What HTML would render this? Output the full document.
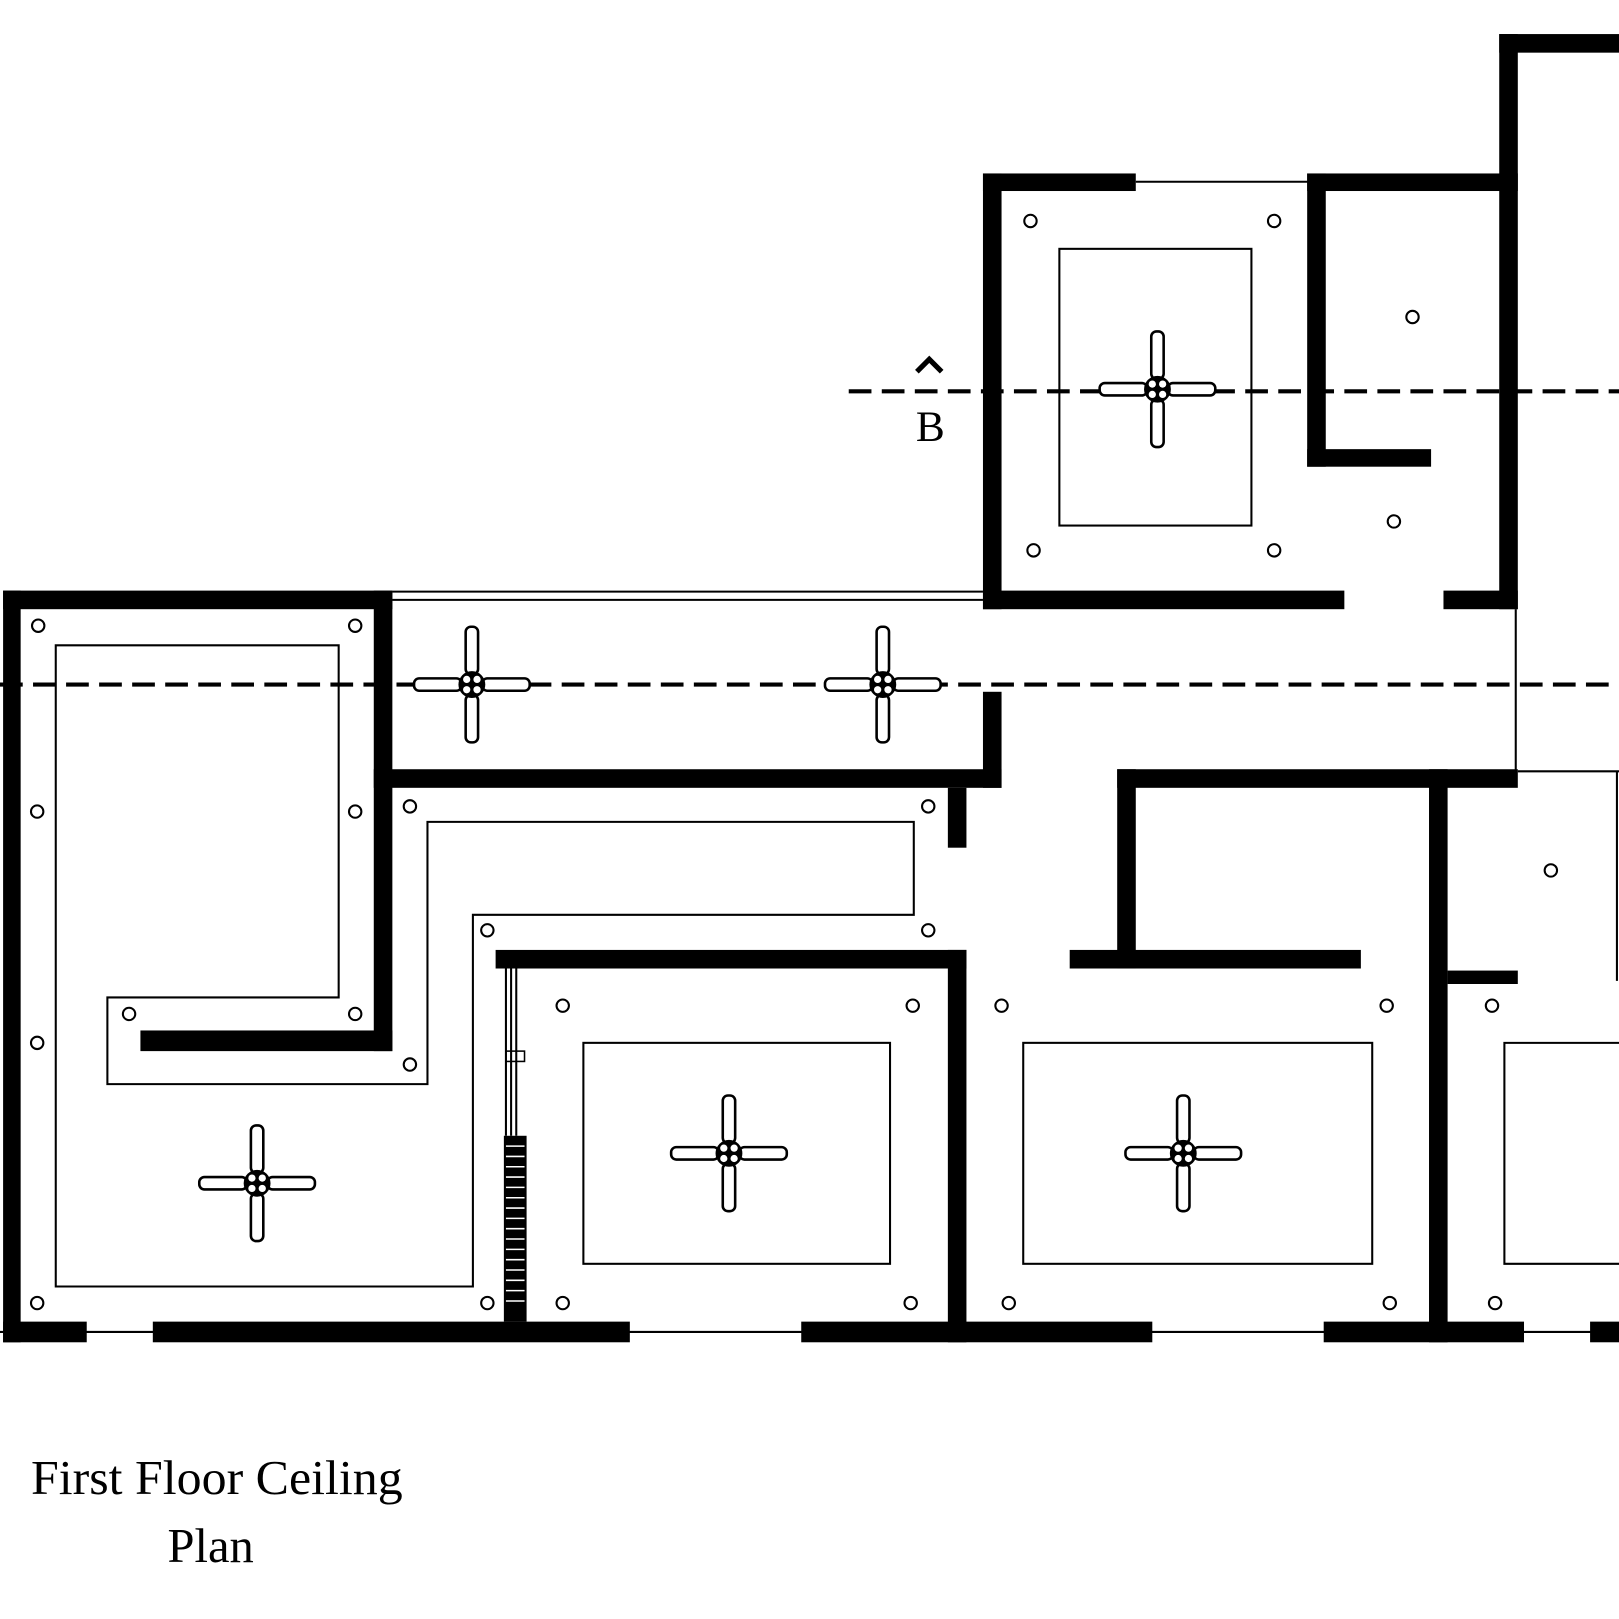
<!DOCTYPE html>
<html><head><meta charset="utf-8"><style>
html,body{margin:0;padding:0;background:#fff;}
svg{display:block;}
</style></head><body>
<svg width="1619" height="1619" viewBox="0 0 1568 1568" preserveAspectRatio="none" xmlns="http://www.w3.org/2000/svg">
<defs>
<g id="fan">
  <rect x="-6" y="-56" width="12" height="46" rx="5" fill="#fff" stroke="#000" stroke-width="2.5"/>
  <rect x="-6" y="10" width="12" height="46" rx="5" fill="#fff" stroke="#000" stroke-width="2.5"/>
  <rect x="-56" y="-6" width="46" height="12" rx="5" fill="#fff" stroke="#000" stroke-width="2.5"/>
  <rect x="10" y="-6" width="46" height="12" rx="5" fill="#fff" stroke="#000" stroke-width="2.5"/>
  <circle r="13" fill="#000"/>
  <circle cx="-5" cy="-5" r="3.5" fill="#fff"/><circle cx="5" cy="-5" r="3.5" fill="#fff"/>
  <circle cx="-5" cy="5" r="3.5" fill="#fff"/><circle cx="5" cy="5" r="3.5" fill="#fff"/>
</g>
<circle id="lt" r="6" fill="#fff" stroke="#000" stroke-width="2"/>
</defs>
<rect width="1568" height="1568" fill="#fff"/>
<g fill="none" stroke="#000" stroke-width="2">
  <line x1="1100" y1="176" x2="1268" y2="176"/>
  <line x1="380" y1="573" x2="952" y2="573"/>
  <line x1="380" y1="581" x2="952" y2="581"/>
  <line x1="1468" y1="590" x2="1468" y2="747"/>
  <line x1="1470" y1="747" x2="1568" y2="747"/>
  <line x1="1566" y1="747" x2="1566" y2="950"/>
  <line x1="0" y1="1290" x2="1568" y2="1290"/>
  <path d="M54,625 H328 V966 H104 V1050 H414 V796 H885 V886 H458 V1246 H54 Z"/>
  <rect x="1026" y="241" width="186" height="268"/>
  <rect x="565" y="1010" width="297" height="214"/>
  <rect x="991" y="1010" width="338" height="214"/>
  <path d="M1568,1010 H1457 V1224 H1568"/>
  <line x1="490" y1="938" x2="490" y2="1100"/>
  <line x1="495" y1="938" x2="495" y2="1100"/>
  <line x1="500" y1="938" x2="500" y2="1100"/>
  <rect x="490" y="1018" width="18" height="10" stroke-width="1.5"/>
</g>
<g fill="#000">
  <rect x="488" y="1100" width="22" height="180"/>
</g>
<g stroke="#fff" stroke-width="1.5">
  <line x1="490" y1="1110" x2="508" y2="1110"/><line x1="490" y1="1120" x2="508" y2="1120"/>
  <line x1="490" y1="1130" x2="508" y2="1130"/><line x1="490" y1="1140" x2="508" y2="1140"/>
  <line x1="490" y1="1150" x2="508" y2="1150"/><line x1="490" y1="1160" x2="508" y2="1160"/>
  <line x1="490" y1="1170" x2="508" y2="1170"/><line x1="490" y1="1180" x2="508" y2="1180"/>
  <line x1="490" y1="1190" x2="508" y2="1190"/><line x1="490" y1="1200" x2="508" y2="1200"/>
  <line x1="490" y1="1210" x2="508" y2="1210"/><line x1="490" y1="1220" x2="508" y2="1220"/>
  <line x1="490" y1="1230" x2="508" y2="1230"/><line x1="490" y1="1240" x2="508" y2="1240"/>
  <line x1="490" y1="1250" x2="508" y2="1250"/><line x1="490" y1="1260" x2="508" y2="1260"/>
</g>
<g fill="#000">
  <rect x="1452" y="33" width="116" height="18"/>
  <rect x="1452" y="33" width="18" height="557"/>
  <rect x="952" y="168" width="148" height="17"/>
  <rect x="952" y="168" width="18" height="422"/>
  <rect x="1266" y="168" width="204" height="17"/>
  <rect x="1266" y="168" width="18" height="284"/>
  <rect x="1266" y="435" width="120" height="17"/>
  <rect x="952" y="572" width="350" height="18"/>
  <rect x="1398" y="572" width="72" height="18"/>
  <rect x="3" y="572" width="377" height="18"/>
  <rect x="3" y="572" width="17" height="728"/>
  <rect x="362" y="572" width="18" height="446"/>
  <rect x="136" y="998" width="244" height="20"/>
  <rect x="362" y="745" width="608" height="18"/>
  <rect x="952" y="670" width="18" height="93"/>
  <rect x="918" y="763" width="18" height="58"/>
  <rect x="480" y="920" width="456" height="18"/>
  <rect x="918" y="920" width="18" height="380"/>
  <rect x="1082" y="745" width="388" height="18"/>
  <rect x="1082" y="745" width="18" height="193"/>
  <rect x="1036" y="920" width="282" height="18"/>
  <rect x="1384" y="745" width="18" height="555"/>
  <rect x="1402" y="940" width="68" height="13"/>
  <rect x="3" y="1280" width="81" height="20"/>
  <rect x="148" y="1280" width="462" height="20"/>
  <rect x="776" y="1280" width="340" height="20"/>
  <rect x="1282" y="1280" width="194" height="20"/>
  <rect x="1540" y="1280" width="28" height="20"/>
</g>
<g stroke="#000" stroke-width="4" stroke-dasharray="22 10">
  <line x1="822" y1="379" x2="1568" y2="379"/>
  <line x1="0" y1="663" x2="1568" y2="663"/>
</g>
<use href="#fan" x="1121" y="377"/>
<use href="#fan" x="457" y="663"/>
<use href="#fan" x="855" y="663"/>
<use href="#fan" x="249" y="1146"/>
<use href="#fan" x="706" y="1117"/>
<use href="#fan" x="1146" y="1117"/>
<use href="#lt" x="998" y="214"/><use href="#lt" x="1234" y="214"/><use href="#lt" x="1368" y="307"/>
<use href="#lt" x="1001" y="533"/><use href="#lt" x="1234" y="533"/><use href="#lt" x="1350" y="505"/>
<use href="#lt" x="37" y="606"/><use href="#lt" x="344" y="606"/><use href="#lt" x="36" y="786"/>
<use href="#lt" x="344" y="786"/><use href="#lt" x="36" y="1010"/><use href="#lt" x="125" y="982"/>
<use href="#lt" x="344" y="982"/><use href="#lt" x="397" y="1031"/><use href="#lt" x="397" y="781"/>
<use href="#lt" x="899" y="781"/><use href="#lt" x="472" y="901"/><use href="#lt" x="899" y="901"/>
<use href="#lt" x="36" y="1262"/><use href="#lt" x="472" y="1262"/>
<use href="#lt" x="545" y="974"/><use href="#lt" x="884" y="974"/><use href="#lt" x="545" y="1262"/><use href="#lt" x="882" y="1262"/>
<use href="#lt" x="970" y="974"/><use href="#lt" x="1343" y="974"/><use href="#lt" x="977" y="1262"/><use href="#lt" x="1346" y="1262"/>
<use href="#lt" x="1502" y="843"/><use href="#lt" x="1445" y="974"/><use href="#lt" x="1448" y="1262"/>
<polyline points="888,360 900,348 912,360" fill="none" stroke="#000" stroke-width="5"/>
<text x="901" y="427" font-family="Liberation Serif, serif" font-size="42" text-anchor="middle">B</text>
<text x="30" y="1447" font-family="Liberation Serif, serif" font-size="47" textLength="360" lengthAdjust="spacingAndGlyphs">First Floor Ceiling</text>
<text x="204" y="1513" font-family="Liberation Serif, serif" font-size="47" text-anchor="middle">Plan</text>
</svg>
</body></html>
